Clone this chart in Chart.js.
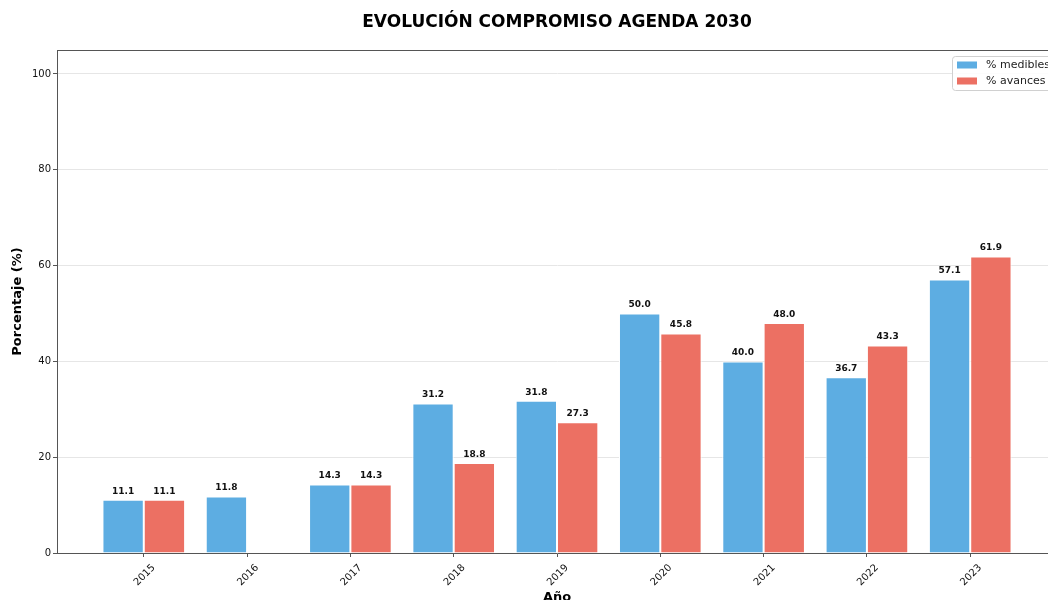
<!DOCTYPE html>
<html>
<head>
<meta charset="utf-8">
<script src="https://cdn.jsdelivr.net/npm/chart.js@4.4.1/dist/chart.umd.min.js"></script>
<style>
    html, body { margin: 0; padding: 0; background: #fff; }
    #wrap { width: 1048px; height: 600px; overflow: hidden; position: relative; }
    canvas { display: block; }
</style>
</head>
<body>
<div id="wrap">
    <canvas id="agendaChart" width="1070" height="600"></canvas>
</div>
<script>
const years = [2015, 2016, 2017, 2018, 2019, 2020, 2021, 2022, 2023];
const medibles = [11.1, 11.8, 14.3, 31.2, 31.8, 50.0, 40.0, 36.7, 57.1];
const avances = [11.1, null, 14.3, 18.8, 27.3, 45.8, 48.0, 43.3, 61.9];
const yTicks = [0, 20, 40, 60, 80, 100];

const FONT = "'DejaVu Sans', sans-serif";

function toPoints(values) {
    return years.map((y, i) => ({ x: y, y: values[i] }));
}

/* ---------- extras drawn on top: title, frame, legend, value labels ---------- */
const extras = {
    id: "extras",
    afterDraw(chart) {
        const ctx = chart.ctx;
        const a = chart.chartArea;
        ctx.save();

        // frame top + right
        ctx.strokeStyle = "#555";
        ctx.lineWidth = 1;
        ctx.beginPath();
        ctx.moveTo(a.left, a.top + 0.5);
        ctx.lineTo(a.right, a.top + 0.5);
        ctx.lineTo(a.right, a.bottom);
        ctx.stroke();

        // title
        ctx.fillStyle = "#000";
        ctx.font = "bold 17px " + FONT;
        ctx.textAlign = "center";
        ctx.textBaseline = "middle";
        ctx.fillText("EVOLUCIÓN COMPROMISO AGENDA 2030", (a.left + a.right) / 2, 23);

        // axis titles
        ctx.font = "bold 13px " + FONT;
        ctx.fillText("Año", (a.left + a.right) / 2, 598);
        ctx.save();
        ctx.translate(18, (a.top + a.bottom) / 2);
        ctx.rotate(-Math.PI / 2);
        ctx.fillText("Porcentaje (%)", 0, 0);
        ctx.restore();

        // value labels
        ctx.font = "bold 9px " + FONT;
        ctx.fillStyle = "#111";
        ctx.textBaseline = "bottom";
        chart.data.datasets.forEach((ds, di) => {
            const meta = chart.getDatasetMeta(di);
            meta.data.forEach((bar, i) => {
                const v = ds.data[i].y;
                if (v === null) return;
                ctx.fillText(v.toFixed(1), bar.x, bar.y - 4);
            });
        });

        // legend box
        const lx = 952, ly = 56, lw = 115, lh = 34;
        ctx.fillStyle = "rgba(255,255,255,0.85)";
        ctx.strokeStyle = "#d0d0d0";
        ctx.beginPath();
        ctx.roundRect(lx + 0.5, ly + 0.5, lw, lh, 3);
        ctx.fill();
        ctx.stroke();
        ctx.font = "11px " + FONT;
        ctx.textAlign = "left";
        ctx.textBaseline = "middle";
        chart.data.datasets.forEach((ds, di) => {
            const cy = ly + 9 + di * 16;
            ctx.fillStyle = ds.backgroundColor;
            ctx.fillRect(lx + 5, cy - 3.5, 20, 7);
            ctx.fillStyle = "#222";
            ctx.fillText(ds.label, lx + 34, cy);
        });

        ctx.restore();
    }
};

const ctx = document.getElementById("agendaChart").getContext("2d");

new Chart(ctx, {
    type: "bar",
    data: {
        datasets: [
            {
                label: "% medibles",
                data: toPoints(medibles),
                backgroundColor: "#5DADE2",
                borderColor: "#ffffff",
                borderWidth: 1,
                categoryPercentage: 0.8,
                barPercentage: 1.0
            },
            {
                label: "% avances",
                data: toPoints(avances),
                backgroundColor: "#EC7063",
                borderColor: "#ffffff",
                borderWidth: 1,
                categoryPercentage: 0.8,
                barPercentage: 1.0
            }
        ]
    },
    options: {
        responsive: false,
        animation: false,
        layout: { padding: { top: 50, right: 13, left: 0, bottom: 0 } },
        plugins: {
            legend: { display: false },
            tooltip: { enabled: false }
        },
        scales: {
            x: {
                type: "linear",
                min: 2014.16,
                max: 2023.84,
                offset: false,
                afterFit(scale) { scale.height = 47; },
                afterBuildTicks(scale) {
                    scale.ticks = years.map(v => ({ value: v }));
                },
                ticks: {
                    callback: v => String(v),
                    minRotation: 45,
                    maxRotation: 45,
                    labelOffset: 10,
                    padding: 5,
                    color: "#111",
                    font: { family: FONT, size: 10 }
                },
                grid: {
                    offset: false,
                    drawOnChartArea: false,
                    drawTicks: true,
                    tickLength: 4,
                    color: "#555"
                },
                border: { color: "#555", width: 1 }
            },
            y: {
                min: 0,
                max: 105,
                afterFit(scale) { scale.width = 57; },
                afterBuildTicks(scale) {
                    scale.ticks = yTicks.map(v => ({ value: v }));
                },
                ticks: {
                    color: "#111",
                    padding: 2,
                    font: { family: FONT, size: 10 }
                },
                grid: {
                    color: "#e6e6e6",
                    tickColor: "#555",
                    tickLength: 4
                },
                border: { color: "#555", width: 1 }
            }
        }
    },
    plugins: [extras]
});
</script>
</body>
</html>
